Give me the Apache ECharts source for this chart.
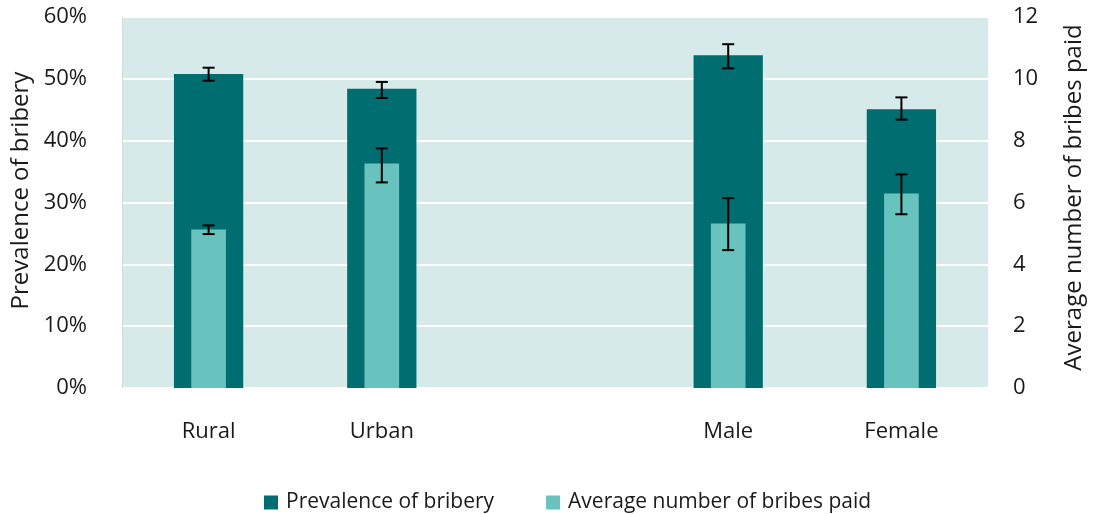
<!DOCTYPE html>
<html>
<head>
<meta charset="utf-8">
<script src="https://cdn.jsdelivr.net/npm/echarts@6/dist/echarts.min.js"></script>
<style>
  html, body { margin: 0; padding: 0; background: #fff; }
  #chart { width: 1094px; height: 514px; }
</style>
</head>
<body>
<div id="chart"></div>
<script>
// groups (the empty one is the gap between the two pairs)
var categories = ['Rural', 'Urban', '', 'Male', 'Female'];

// prevalence of bribery, %
var prevalence = [50.8, 48.4, null, 53.8, 45.1];
var prevalenceLow = [49.7, 46.9, null, 51.7, 43.4];
var prevalenceHigh = [51.8, 49.5, null, 55.6, 47.0];

// average number of bribes paid
var avgBribes = [5.13, 7.26, null, 5.32, 6.29];
var avgBribesLow = [4.98, 6.65, null, 4.46, 5.62];
var avgBribesHigh = [5.26, 7.75, null, 6.14, 6.91];

var leftTicks = { min: 0, max: 60, interval: 10 };
var rightTicks = { min: 0, max: 12, interval: 2 };

var DARK = '#006e70';
var LIGHT = '#68c2be';
var FONT = 'Open Sans';
var INK = '#1a1a1a';

function errData(low, high) {
  var out = [];
  for (var i = 0; i < categories.length; i++) {
    if (low[i] != null) out.push([i, low[i], high[i]]);
  }
  return out;
}

// I-shaped error bar, black, 12px caps
function renderErr(params, api) {
  var lo = api.coord([api.value(0), api.value(1)]);
  var hi = api.coord([api.value(0), api.value(2)]);
  var cap = 6;
  var st = { stroke: '#000', lineWidth: 2 };
  return {
    type: 'group',
    children: [
      { type: 'line', shape: { x1: lo[0], y1: lo[1], x2: hi[0], y2: hi[1] }, style: st },
      { type: 'line', shape: { x1: hi[0] - cap, y1: hi[1], x2: hi[0] + cap, y2: hi[1] }, style: st },
      { type: 'line', shape: { x1: lo[0] - cap, y1: lo[1], x2: lo[0] + cap, y2: lo[1] }, style: st }
    ]
  };
}

var chart = echarts.init(document.getElementById('chart'));
chart.setOption({
  animation: false,
  textStyle: { fontFamily: FONT },
  grid: {
    left: 122, right: 102, top: 17, bottom: 126,
    show: true, backgroundColor: '#d6ebe9', borderWidth: 0
  },
  legend: {
    top: 487,
    left: 259,
    icon: 'rect',
    itemWidth: 14,
    itemHeight: 14,
    itemGap: 52,
    selectedMode: false,
    textStyle: { fontFamily: FONT, fontSize: 21, color: INK, padding: [0, 0, 0, 3] },
    data: ['Prevalence of bribery', 'Average number of bribes paid']
  },
  xAxis: [
    {
      type: 'category', data: categories,
      axisLine: { show: false }, axisTick: { show: false },
      axisLabel: { fontSize: 22, color: INK, margin: 33 }
    },
    {
      type: 'category', data: categories, show: false
    }
  ],
  yAxis: [
    {
      type: 'value', min: leftTicks.min, max: leftTicks.max, interval: leftTicks.interval,
      name: 'Prevalence of bribery', nameLocation: 'middle', nameGap: 84,
      nameTextStyle: { fontSize: 24, color: INK, padding: [0, 0, 0, 24] },
      axisLine: { show: true, lineStyle: { color: '#cfdcdb', width: 1 } },
      axisTick: { show: false },
      axisLabel: { formatter: '{value}%', fontSize: 22, color: INK, margin: 35 },
      splitLine: { lineStyle: { color: '#ffffff', width: 2 } }
    },
    {
      type: 'value', min: rightTicks.min, max: rightTicks.max, interval: rightTicks.interval,
      name: 'Average number of bribes paid', nameLocation: 'middle', nameGap: 74,
      nameRotate: 90,
      nameTextStyle: { fontSize: 24, color: INK, padding: [0, 0, 0, 10] },
      axisLine: { show: false }, axisTick: { show: false },
      axisLabel: { fontSize: 22, color: INK, margin: 25 },
      splitLine: { show: false }
    }
  ],
  series: [
    {
      name: 'Prevalence of bribery', type: 'bar',
      xAxisIndex: 0, yAxisIndex: 0, barWidth: '40%',
      itemStyle: { color: DARK },
      data: prevalence
    },
    {
      name: 'Average number of bribes paid', type: 'bar',
      xAxisIndex: 1, yAxisIndex: 1, barWidth: '20%',
      itemStyle: { color: LIGHT },
      data: avgBribes
    },
    {
      type: 'custom', xAxisIndex: 0, yAxisIndex: 0,
      renderItem: renderErr, data: errData(prevalenceLow, prevalenceHigh), z: 5
    },
    {
      type: 'custom', xAxisIndex: 1, yAxisIndex: 1,
      renderItem: renderErr, data: errData(avgBribesLow, avgBribesHigh), z: 5
    }
  ]
});
</script>
</body>
</html>
